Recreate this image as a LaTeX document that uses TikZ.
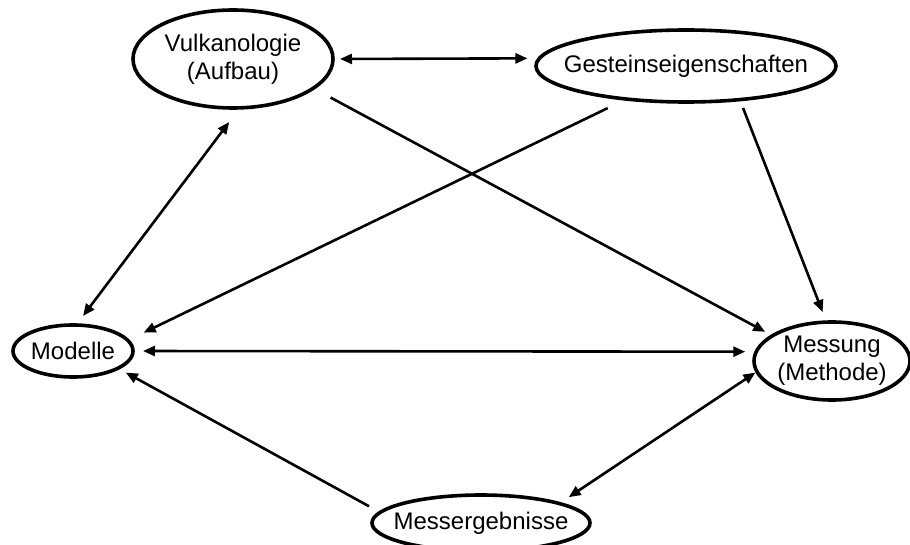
\documentclass[tikz,border=0pt]{standalone}
\usepackage{fontspec}
\setmainfont{Liberation Sans}
\usetikzlibrary{shapes.geometric,arrows.meta}
\begin{document}
\begin{tikzpicture}[x=1pt,y=-1pt,
  oval/.style={ellipse, draw, line width=3.6pt, inner sep=-40pt, outer sep=0pt, align=center, font=\fontsize{24}{28}\selectfont},
  conn/.style={line width=2.6pt, arrows={-Triangle[length=12pt,width=10pt]}},
  bi/.style={line width=2.6pt, arrows={Triangle[length=12pt,width=10pt]-Triangle[length=12pt,width=10pt]}}]
\useasboundingbox (0,0) rectangle (910,545);
\node[oval, minimum width=200pt, minimum height=98pt] (V) at (233,59) {Vulkanologie\\(Aufbau)};
\node[oval, minimum width=300pt, minimum height=72pt] (G) at (686,66) {Gesteinseigenschaften};
\node[oval, minimum width=120pt, minimum height=52pt] (Mo) at (73,351) {Modelle};
\node[oval, minimum width=156pt, minimum height=78pt] (Me) at (832,361) {Messung\\(Methode)};
\node[oval, minimum width=218pt, minimum height=56pt] (E) at (481,523) {Messergebnisse};
\draw[bi, shorten <=7pt, shorten >=12pt] (V.east) -- (G.177.3);
\draw[bi, shorten <=17.7pt, shorten >=11.4pt] (V.-82.3) -- (Mo.83.2);
\draw[conn, shorten <=19.7pt, shorten >=8.3pt] (V.-20.4) -- (Me.157.2);
\draw[conn, shorten <=20.8pt, shorten >=17.7pt] (G.-151.3) -- (Mo.11.8);
\draw[conn, shorten <=9pt, shorten >=10.8pt] (G.-32) -- (Me.98.9);
\draw[bi, shorten <=10pt, shorten >=11pt] (Mo.-0.95) -- (Me.173.2);
\draw[conn, shorten <=12.6pt, shorten >=9pt] (E.174.5) -- (Mo.-21.8);
\draw[bi, shorten <=11.4pt, shorten >=1.8pt] (E.14.3) -- (Me.-172.5);
\end{tikzpicture}
\end{document}
